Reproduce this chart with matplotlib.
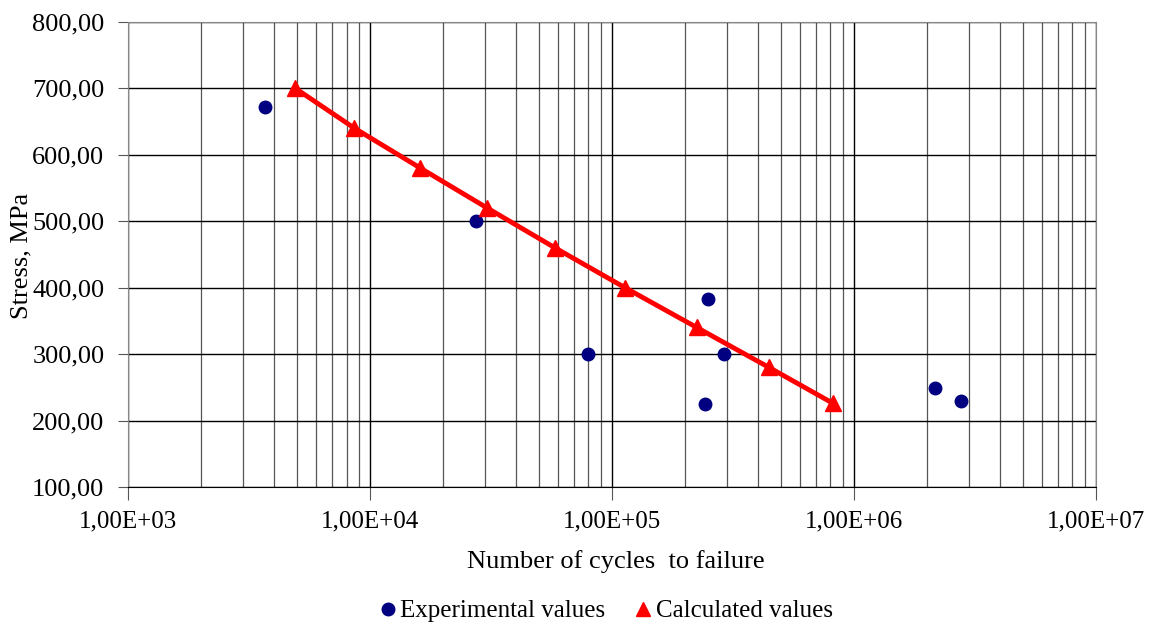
import matplotlib.pyplot as plt
import numpy as np
from matplotlib.ticker import FuncFormatter, LogLocator, NullFormatter
from matplotlib.lines import Line2D

# experimental points (cycles, stress MPa)
exp_cycles = [3700, 27500, 79500, 249000, 290000, 242000, 2160000, 2770000]
exp_stress = [672, 500, 300, 383, 300, 225, 249, 229]

# calculated curve
calc_cycles = [4900, 8600, 16100, 30400, 58000, 113000, 224000, 445000, 818000]
calc_stress = [700, 640, 580, 520, 460, 400, 340, 280, 226]

plt.rcParams['font.family'] = ['Liberation Serif', 'DejaVu Serif']

fig = plt.figure(figsize=(11.59, 6.26), dpi=100)
ax = fig.add_axes([0.1104, 0.222, 0.8352, 0.7435])

ax.set_xscale('log')
ax.set_xlim(1e3, 1e7)
ax.set_ylim(100, 800)
ax.set_yticks(np.arange(100, 801, 100))

ax.xaxis.set_minor_locator(LogLocator(base=10, subs=np.arange(2, 10)))
ax.xaxis.set_minor_formatter(NullFormatter())
ax.xaxis.set_major_formatter(FuncFormatter(lambda v, p: "1,00E+%02d" % round(np.log10(v))))
ax.yaxis.set_major_formatter(FuncFormatter(lambda v, p: ("%.2f" % v).replace('.', ',')))

ax.grid(True, which='major', axis='both', color='black', linewidth=1.0)
ax.grid(True, which='minor', axis='x', color='#555555', linewidth=0.9)
ax.set_axisbelow(True)

ax.tick_params(axis='y', which='major', labelsize=19, length=7, color='#555555', pad=10)
ax.tick_params(axis='x', which='major', labelsize=18, length=9, color='#555555', pad=8)
ax.tick_params(axis='x', which='minor', length=0)
for s in ['top', 'right', 'left']:
    ax.spines[s].set_color('#888888')
ax.spines['bottom'].set_color('black')

ax.plot(exp_cycles, exp_stress, 'o', color='#000080', markersize=9, zorder=3)
ax.plot(calc_cycles, calc_stress, '-^', color='#ff0000', linewidth=3.5, markersize=11, zorder=4)

fig.text(0.531, 1 - 562 / 626, 'Number of cycles  to failure', fontsize=19, ha='center', va='center')
fig.text(21 / 1159, 1 - 256 / 626, 'Stress, MPa', fontsize=19, rotation=90, ha='center', va='center')

handles = [Line2D([], [], marker='o', color='#000080', linestyle='none', markersize=9),
           Line2D([], [], marker='^', color='#ff0000', linestyle='none', markersize=10)]
fig.legend(handles, ['Experimental values', 'Calculated values'], loc='center',
           bbox_to_anchor=(604 / 1159, 1 - 611 / 626), ncol=2, frameon=False, fontsize=18,
           handletextpad=0.0, columnspacing=1.0, handlelength=1.0)

fig.savefig('out.png', dpi=100)
